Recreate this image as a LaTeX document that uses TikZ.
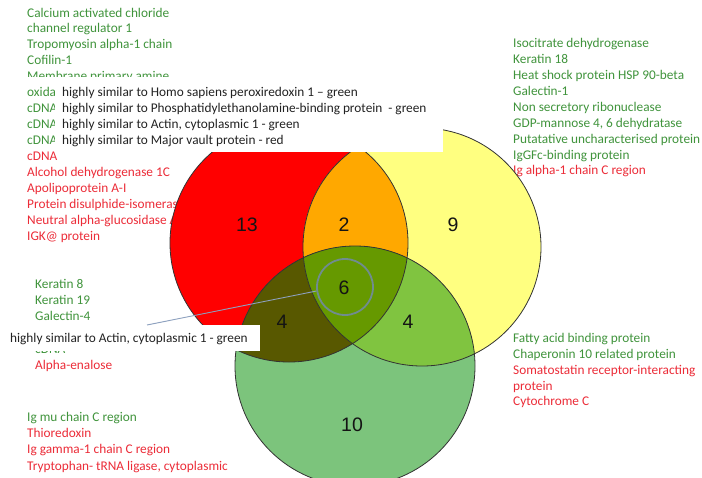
\documentclass[tikz,border=0pt]{standalone}
\usepackage{fontspec}
\setmainfont{Carlito}
\newfontfamily\numfont{Liberation Sans}
\usetikzlibrary{calc}

\definecolor{txtgreen}{RGB}{64,148,60}
\definecolor{txtred}{RGB}{236,44,56}
\definecolor{redfill}{RGB}{255,0,0}
\definecolor{orangefill}{RGB}{255,168,0}
\definecolor{yellowfill}{RGB}{255,255,128}
\definecolor{greenfill}{RGB}{124,196,124}
\definecolor{olivefill}{RGB}{88,88,0}
\definecolor{limefill}{RGB}{128,196,64}
\definecolor{triplefill}{RGB}{102,153,0}
\definecolor{ringcol}{RGB}{112,140,144}
\definecolor{leadercol}{RGB}{140,160,190}
\definecolor{calltext}{RGB}{34,34,34}

\tikzset{
  item/.style={anchor=base west, inner sep=0pt, font=\fontsize{13.3}{15}\selectfont},
  gitem/.style={item, text=txtgreen},
  ritem/.style={item, text=txtred},
  citem/.style={item, text=calltext},
  count/.style={inner sep=0pt, text=black!92, font=\numfont\fontsize{19.5}{20}\selectfont},
  setline/.style={draw=black!80, line width=0.8pt},
  coverbox/.style={fill=white, inner sep=0pt, anchor=north west}
}

\begin{document}
\begin{tikzpicture}[x=1pt,y=-1pt]
\useasboundingbox (0,0) rectangle (702,477);
\fill[white] (0,0) rectangle (702,477);

% ---- protein lists ----
\foreach \t [count=\i from 0] in {Calcium activated chloride, channel regulator 1,
    Tropomyosin alpha-1 chain, Cofilin-1, Membrane primary amine, oxida, cDNA, cDNA, cDNA}
  \node[gitem] (tl\i) at (27,{17+15.93*\i}) {\t};
\foreach \t [count=\i from 9] in {cDNA, Alcohol dehydrogenase 1C, Apolipoprotein A-I,
    Protein disulphide-isomerase, Neutral alpha-glucosidase AB, IGK@ protein}
  \node[ritem] (tl\i) at (27,{17+15.93*\i}) {\t};

\foreach \t [count=\i from 0] in {Isocitrate dehydrogenase, Keratin 18,
    Heat shock protein HSP 90-beta, Galectin-1, Non secretory ribonuclease,
    {GDP-mannose 4, 6 dehydratase}, Putatative uncharacterised protein, IgGFc-binding protein}
  \node[gitem] (tr\i) at (513,{47.3+15.96*\i}) {\t};
\node[ritem] (tr8) at (513,{47.3+15.96*8}) {Ig alpha-1 chain C region};

\foreach \t [count=\i from 0] in {Keratin 8, Keratin 19, Galectin-4}
  \node[gitem] (ml\i) at (35,{288.3+16.2*\i}) {\t};
\node[gitem] (ml4) at (35,{288.3+16.2*4}) {cDNA};
\node[ritem] (ml5) at (35,{288.3+16.2*5}) {Alpha-enalose};

\node[gitem] (br0) at (513,342.3) {Fatty acid binding protein};
\node[gitem] (br1) at (513,358.2) {Chaperonin 10 related protein};
\node[ritem] (br2) at (513,374.1) {Somatostatin receptor-interacting};
\node[ritem] (br3) at (513,390.0) {protein};
\node[ritem] (br4) at (513,405.9) {Cytochrome C};

\node[gitem] (bl0) at (27,421.7) {Ig mu chain C region};
\node[ritem] (bl1) at (27,437.8) {Thioredoxin};
\node[ritem] (bl2) at (27,453.9) {Ig gamma-1 chain C region};
\node[ritem] (bl3) at (27,470.0) {Tryptophan- tRNA ligase, cytoplasmic};

% ---- the three sets ----
\coordinate (cR) at (289,243);
\coordinate (cY) at (422,247);
\coordinate (cG) at (355,366);
\def\rR{119}\def\rY{119}\def\rG{120}

\fill[redfill] (cR) circle (\rR);
\fill[yellowfill] (cY) circle (\rY);
\begin{scope}
  \clip (cR) circle (\rR);
  \fill[orangefill] (cY) circle (\rY);
\end{scope}
\fill[greenfill] (cG) circle (\rG);
\begin{scope}
  \clip (cG) circle (\rG);
  \fill[olivefill] (cR) circle (\rR);
  \fill[limefill] (cY) circle (\rY);
  \clip (cR) circle (\rR);
  \fill[triplefill] (cY) circle (\rY);
\end{scope}
\draw[setline] (cR) circle (\rR);
\draw[setline] (cY) circle (\rY);
\draw[setline] (cG) circle (\rG);

% ---- counts ----
\node[count] (n13) at (247,225) {13};
\node[count] (n2)  at (344,225) {2};
\node[count] (n9)  at (453,225) {9};
\node[count] (n6)  at (344,288) {6};
\node[count] (n4a) at (282,322) {4};
\node[count] (n4b) at (408,322) {4};
\node[count] (n10) at (352,425) {10};

% ---- highlight ring and its callout ----
\node[circle, draw=ringcol, line width=1.8pt, minimum size=56pt, inner sep=0pt] (ring) at (345,287) {};

\node[coverbox, minimum width=257pt, minimum height=26pt] (callB) at (3,325) {};
\node[citem] (callBt) at (10,342.7) {highly similar to Actin, cytoplasmic 1 - green};
\draw[leadercol, line width=0.9pt] (ring.188) -- ($(callB.north west)+(144,0)$);

% ---- list callout ----
\fill[white] (20,77) rectangle (443,84);
\node[coverbox, minimum width=388pt, minimum height=75pt] (callA) at (55,77) {};
\node[citem] (ca0) at (62,96.7)  {highly similar to Homo sapiens peroxiredoxin 1 -- green};
\node[citem] (ca1) at (62,112.6) {highly similar to Phosphatidylethanolamine-binding protein \ - green};
\node[citem] (ca2) at (62,128.5) {highly similar to Actin, cytoplasmic 1 - green};
\node[citem] (ca3) at (62,144.5) {highly similar to Major vault protein - red};
\end{tikzpicture}
\end{document}
